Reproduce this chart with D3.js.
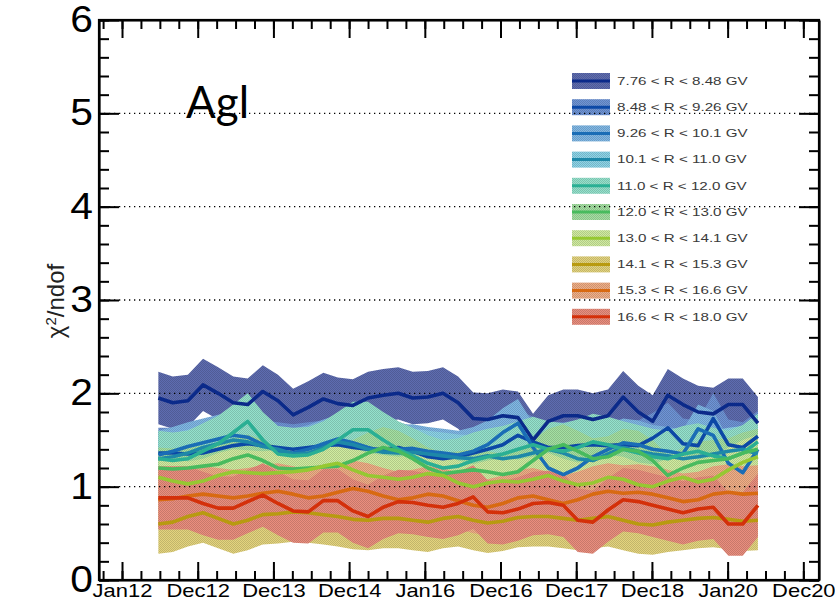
<!DOCTYPE html>
<html><head><meta charset="utf-8">
<script src="https://cdn.jsdelivr.net/npm/d3@7"></script>
<style>body{margin:0;background:#fff} svg{display:block}</style>
</head><body><svg id="c" width="835" height="603"></svg>
<script>
// ---------------- DATA ----------------
const tickLabels = ["Jan12","Dec12","Dec13","Dec14","Jan16","Dec16","Dec17","Dec18","Jan20","Dec20"];
const tickPos = [0,1,2,3,4,5,6,7,8,9];
const yTicks = [0,1,2,3,4,5,6];
const gridValues = [1,2,3,4,5];
const times = [0.48,0.67,0.87,1.07,1.27,1.47,1.66,1.86,2.06,2.26,2.46,2.66,2.85,3.05,3.25,3.45,3.65,3.84,4.04,4.24,4.44,4.64,4.83,5.03,5.23,5.43,5.63,5.83,6.02,6.22,6.42,6.62,6.82,7.01,7.21,7.41,7.61,7.81,8.01,8.20,8.40];
const seriesNames = ["7.76 < R < 8.48 GV","8.48 < R < 9.26 GV","9.26 < R < 10.1 GV","10.1 < R < 11.0 GV","11.0 < R < 12.0 GV","12.0 < R < 13.0 GV","13.0 < R < 14.1 GV","14.1 < R < 15.3 GV","15.3 < R < 16.6 GV","16.6 < R < 18.0 GV"];
const r1 = [1.95,1.90,1.92,2.09,2.00,1.90,1.88,2.02,1.92,1.77,1.85,1.94,1.89,1.87,1.95,1.98,2.00,1.95,1.96,2.00,1.90,1.73,1.72,1.76,1.74,1.50,1.70,1.76,1.76,1.72,1.76,1.96,1.80,1.70,1.98,1.88,1.80,1.78,1.88,1.88,1.68];
const r2 = [1.36,1.36,1.35,1.36,1.40,1.44,1.46,1.44,1.42,1.40,1.42,1.44,1.45,1.42,1.40,1.40,1.42,1.38,1.32,1.30,1.32,1.36,1.40,1.45,1.55,1.48,1.42,1.42,1.44,1.45,1.44,1.45,1.44,1.52,1.63,1.46,1.44,1.73,1.45,1.42,1.54];
const r3 = [1.34,1.38,1.43,1.47,1.51,1.55,1.53,1.45,1.38,1.36,1.40,1.46,1.51,1.47,1.42,1.38,1.40,1.41,1.38,1.36,1.34,1.38,1.45,1.58,1.68,1.42,1.20,1.13,1.20,1.32,1.40,1.47,1.45,1.40,1.38,1.35,1.62,1.55,1.25,1.15,1.40];
const r4 = [1.30,1.32,1.36,1.42,1.46,1.50,1.48,1.43,1.40,1.35,1.36,1.42,1.48,1.45,1.40,1.37,1.36,1.37,1.35,1.33,1.31,1.30,1.33,1.30,1.32,1.36,1.40,1.36,1.30,1.28,1.35,1.42,1.38,1.35,1.33,1.30,1.32,1.35,1.38,1.40,1.35];
const r5 = [1.30,1.28,1.30,1.38,1.46,1.58,1.70,1.50,1.35,1.33,1.34,1.40,1.50,1.61,1.61,1.50,1.40,1.33,1.25,1.20,1.22,1.28,1.32,1.35,1.40,1.45,1.40,1.38,1.42,1.48,1.45,1.40,1.36,1.32,1.30,1.35,1.38,1.33,1.30,1.36,1.48];
const r6 = [1.20,1.19,1.20,1.22,1.24,1.30,1.34,1.28,1.20,1.19,1.20,1.21,1.22,1.28,1.36,1.42,1.38,1.30,1.20,1.14,1.16,1.18,1.16,1.13,1.16,1.28,1.40,1.45,1.38,1.30,1.32,1.40,1.38,1.28,1.12,1.20,1.26,1.28,1.30,1.36,1.40];
const r7 = [1.10,1.06,1.03,1.06,1.12,1.16,1.15,1.14,1.15,1.16,1.18,1.22,1.25,1.18,1.12,1.10,1.08,1.10,1.14,1.12,1.04,1.00,1.04,1.06,1.05,1.08,1.12,1.06,1.02,1.04,1.10,1.08,1.02,1.00,1.06,1.10,1.05,1.08,1.18,1.26,1.32];
const r8 = [0.60,0.62,0.68,0.72,0.66,0.60,0.64,0.70,0.71,0.73,0.72,0.70,0.68,0.65,0.64,0.66,0.66,0.64,0.62,0.66,0.68,0.64,0.61,0.63,0.67,0.68,0.68,0.66,0.64,0.66,0.68,0.64,0.60,0.59,0.62,0.64,0.66,0.67,0.65,0.63,0.64];
const r9 = [0.86,0.87,0.90,0.92,0.90,0.88,0.90,0.93,0.95,0.92,0.88,0.90,0.94,0.98,0.95,0.90,0.86,0.88,0.92,0.90,0.85,0.80,0.78,0.82,0.88,0.90,0.86,0.82,0.86,0.92,0.95,0.93,0.94,0.92,0.88,0.84,0.86,0.92,0.94,0.92,0.93];
const r10 = [0.88,0.88,0.88,0.82,0.77,0.77,0.84,0.91,0.82,0.74,0.73,0.85,0.85,0.74,0.68,0.78,0.84,0.83,0.80,0.78,0.82,0.89,0.73,0.72,0.76,0.82,0.83,0.80,0.64,0.62,0.75,0.86,0.84,0.80,0.76,0.72,0.76,0.78,0.60,0.60,0.80];
const halfWidths = [0.28,0.27,0.26,0.25,0.30,0.22,0.24,0.32,0.30,0.34];
const bandColors = ["#5e6cb0","#6e94d6","#80b8e6","#8cd4e8","#94e2cc","#a4e0a2","#d0eca0","#e4d47e","#f0ae86","#ea8e7e"];
const lineColors = ["#0b2a8a","#0c48a6","#1a6db6","#1e88a8","#2aaf94","#48bb5e","#96c832","#b89a10","#d86a12","#d4300a"];

// ---------------- CHART ----------------
const series = [r1,r2,r3,r4,r5,r6,r7,r8,r9,r10];
const svg = d3.select("#c");
const x = d3.scaleLinear().domain([-0.304, 9.207]).range([99, 819]);
const y = d3.scaleLinear().domain([0, 6]).range([580, 20]);
const L = 99, R = 819, T = 20, B = 580;

const defs = svg.append("defs");
bandColors.forEach((c, i) => {
  const p = defs.append("pattern").attr("id", "p" + i).attr("width", 2).attr("height", 2)
    .attr("patternUnits", "userSpaceOnUse");
  p.append("rect").attr("width", 2).attr("height", 2).attr("fill", c);
  const dk = d3.color(c).darker(0.45).formatHex();
  p.append("rect").attr("x", 0).attr("y", 0).attr("width", 1).attr("height", 1).attr("fill", dk);
  p.append("rect").attr("x", 1).attr("y", 1).attr("width", 1).attr("height", 1).attr("fill", dk);
});

const bandsG = svg.append("g");
series.forEach((s, k) => {
  const hw = halfWidths[k];
  const area = d3.area()
    .x((d, i) => x(times[i]))
    .y0(d => y(d - hw))
    .y1(d => y(d + hw));
  bandsG.append("path").datum(s).attr("d", area).attr("fill", `url(#p${k})`).attr("stroke", "none");
});

// legend
const legend = svg.append("g");
seriesNames.forEach((name, i) => {
  const cy = 81 + i * 26.2;
  legend.append("rect").attr("x", 572).attr("y", cy - 8).attr("width", 38).attr("height", 16)
    .attr("fill", `url(#p${i})`);
  legend.append("line").attr("x1", 572).attr("x2", 610).attr("y1", cy).attr("y2", cy)
    .attr("stroke", lineColors[i]).attr("stroke-width", 3);
  legend.append("text").attr("transform", `translate(617,${cy}) scale(1.32,1)`)
    .attr("dominant-baseline", "central")
    .attr("font-family", "Liberation Sans, Arial, sans-serif").attr("font-size", 11.5)
    .attr("fill", "#3a3a3a").text(name);
});

// grid
svg.append("g").selectAll("line").data(gridValues).join("line")
  .attr("x1", L).attr("x2", R).attr("y1", d => y(d)).attr("y2", d => y(d))
  .attr("stroke", "#000").attr("stroke-width", 1.3).attr("stroke-dasharray", "1.3 3.7");

// lines
const linesG = svg.append("g");
series.forEach((s, k) => {
  const line = d3.line().x((d, i) => x(times[i])).y(d => y(d));
  linesG.append("path").datum(s).attr("d", line).attr("fill", "none")
    .attr("stroke", lineColors[k]).attr("stroke-width", 3.6).attr("stroke-linejoin", "round");
});

// axes
const font = "Liberation Sans, Arial, Helvetica, sans-serif";
const gl = svg.append("g").attr("transform", `translate(${L},0)`)
  .call(d3.axisLeft(y).tickValues(yTicks).tickSizeInner(-20).tickSizeOuter(0).tickPadding(5).tickFormat(d3.format("d")));
gl.selectAll("text").attr("font-size", 34).attr("font-family", font).attr("fill", "#000")
  .attr("transform", "scale(1.2,1.06)");
svg.append("g").attr("transform", `translate(${L},0)`)
  .call(d3.axisLeft(y).tickValues(d3.range(0, 6.001, 0.2)).tickSizeInner(-10).tickSizeOuter(0).tickFormat(""))
  .select(".domain").remove();
svg.append("g").attr("transform", `translate(${R},0)`)
  .call(d3.axisRight(y).tickValues(yTicks).tickSizeInner(-20).tickSizeOuter(0).tickFormat(""));
svg.append("g").attr("transform", `translate(${R},0)`)
  .call(d3.axisRight(y).tickValues(d3.range(0, 6.001, 0.2)).tickSizeInner(-10).tickSizeOuter(0).tickFormat(""))
  .select(".domain").remove();

const gb = svg.append("g").attr("transform", `translate(0,${B})`)
  .call(d3.axisBottom(x).tickValues(tickPos).tickSizeInner(-18).tickSizeOuter(0).tickPadding(4)
    .tickFormat((d, i) => tickLabels[i]));
gb.selectAll("text").attr("font-size", 18).attr("font-family", font).attr("fill", "#000")
  .attr("transform", "scale(1.22,1)");
const minorX = d3.range(-0.25, 9.21, 0.25).filter(v => x(v) > L + 1 && x(v) < R - 1);
svg.append("g").attr("transform", `translate(0,${B})`)
  .call(d3.axisBottom(x).tickValues(minorX).tickSizeInner(-9).tickSizeOuter(0).tickFormat(""))
  .select(".domain").remove();
svg.append("g").attr("transform", `translate(0,${T})`)
  .call(d3.axisTop(x).tickValues(tickPos).tickSizeInner(-18).tickSizeOuter(0).tickFormat(""));
svg.append("g").attr("transform", `translate(0,${T})`)
  .call(d3.axisTop(x).tickValues(minorX).tickSizeInner(-9).tickSizeOuter(0).tickFormat(""))
  .select(".domain").remove();
svg.selectAll(".tick line").attr("stroke", "#000").attr("stroke-width", 2);
svg.selectAll(".domain").attr("stroke", "#000").attr("stroke-width", 2.2);

svg.append("rect").attr("x", L).attr("y", T).attr("width", R - L).attr("height", B - T)
  .attr("fill", "none").attr("stroke", "#000").attr("stroke-width", 2.2);

// y title
const yt = svg.append("text").attr("transform", "translate(64,301) rotate(-90)")
  .attr("text-anchor", "middle").attr("font-family", font).attr("font-size", 24).attr("fill", "#222");
yt.append("tspan").text("χ");
yt.append("tspan").attr("baseline-shift", "super").attr("font-size", 15).text("2");
yt.append("tspan").text("/ndof");

// Agl label
svg.append("text").attr("x", 186).attr("y", 118).attr("font-family", "Lato, 'Open Sans', sans-serif")
  .attr("font-size", 44).attr("fill", "#000").text("Agl");
</script></body></html>
